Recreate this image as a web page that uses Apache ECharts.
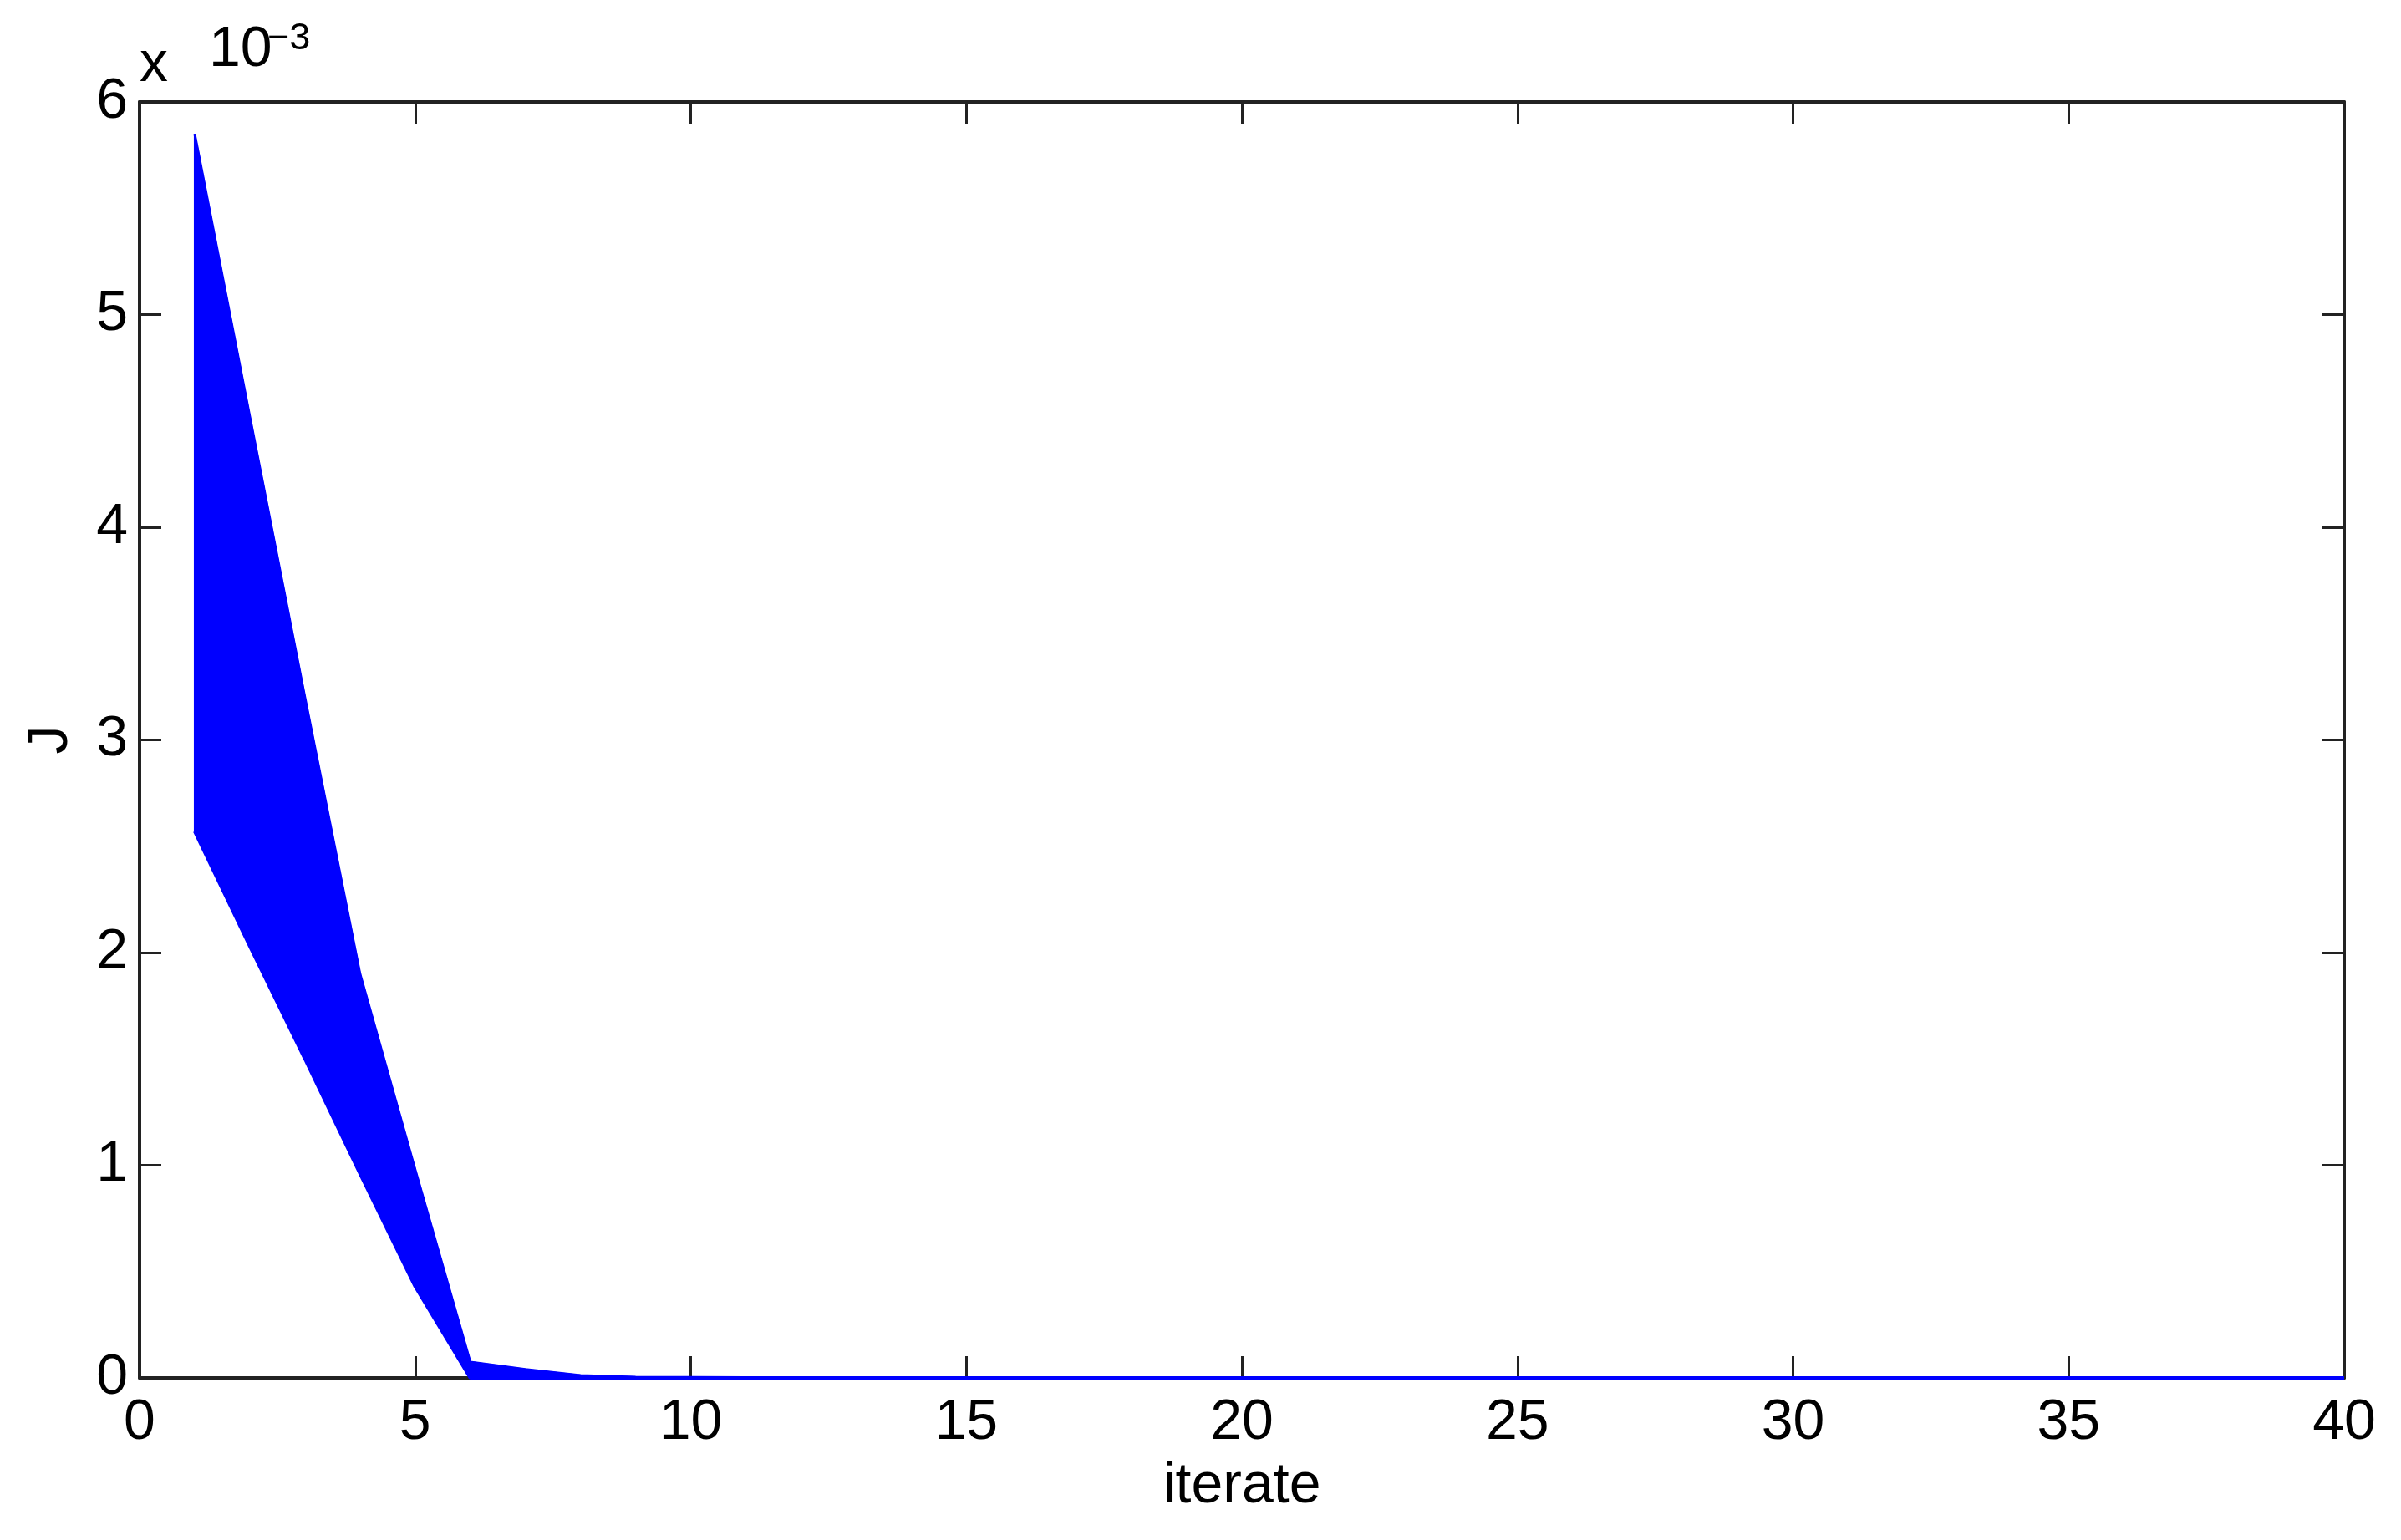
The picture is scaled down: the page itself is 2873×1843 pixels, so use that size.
<!DOCTYPE html>
<html>
<head>
<meta charset="utf-8">
<script src="https://cdn.jsdelivr.net/npm/echarts@6/dist/echarts.min.js"></script>
<style>
  html, body { margin: 0; padding: 0; background: #fff; }
  #jChart { width: 2873px; height: 1843px; }
</style>
</head>
<body>
<div id="jChart"></div>
<script>
// iterate index 1..40
var iterate = [1, 2, 3, 4, 5, 6, 7, 8, 9, 10, 11, 12, 13, 14, 15, 16, 17, 18, 19, 20,
  21, 22, 23, 24, 25, 26, 27, 28, 29, 30, 31, 32, 33, 34, 35, 36, 37, 38, 39, 40];
// J values in units of 1e-3 : upper and lower edge of the bundle of curves
var jUpper = [5.85, 4.52, 3.20, 1.90, 0.98, 0.075, 0.040, 0.012, 0.004, 0.003,
  0.002, 0.002, 0.002, 0.002, 0.002, 0.002, 0.002, 0.002, 0.002, 0.002,
  0.002, 0.002, 0.002, 0.002, 0.002, 0.002, 0.002, 0.002, 0.002, 0.002,
  0.002, 0.002, 0.002, 0.002, 0.002, 0.002, 0.002, 0.002, 0.002, 0.002];
var jLower = [2.57, 2.03, 1.50, 0.96, 0.43, 0, 0, 0, 0, 0,
  0, 0, 0, 0, 0, 0, 0, 0, 0, 0,
  0, 0, 0, 0, 0, 0, 0, 0, 0, 0,
  0, 0, 0, 0, 0, 0, 0, 0, 0, 0];
var xTicks = { min: 0, max: 40, interval: 5 };
var yTicks = { min: 0, max: 6, interval: 1 };

var FONT = 'Liberation Sans, Arial, sans-serif';
var axisColor = '#222';
var blue = '#0000ff';

// one item per segment between two iterates: [x0, up0, lo0, x1, up1, lo1]
var bandData = [];
for (var i = 0; i < iterate.length - 1; i++) {
  bandData.push([iterate[i], jUpper[i], jLower[i], iterate[i + 1], jUpper[i + 1], jLower[i + 1]]);
}

function renderBand(params, api) {
  var p1 = api.coord([api.value(0), api.value(2)]);
  var p2 = api.coord([api.value(3), api.value(5)]);
  var p3 = api.coord([api.value(3), api.value(4)]);
  var p4 = api.coord([api.value(0), api.value(1)]);
  return {
    type: 'polygon',
    shape: { points: [p1, p2, p3, p4] },
    style: { fill: blue, stroke: blue, lineWidth: 2 }
  };
}

function frameAxis(pos, opts, showLabel, labelMargin) {
  return Object.assign({
    type: 'value',
    position: pos,
    axisLine: { show: true, onZero: false, lineStyle: { color: axisColor, width: 4 } },
    axisTick: { show: true, inside: true, length: 26, lineStyle: { color: axisColor, width: 3 } },
    splitLine: { show: false },
    axisLabel: {
      show: showLabel,
      color: '#000',
      fontFamily: FONT,
      fontSize: 68,
      margin: labelMargin || 8
    }
  }, opts);
}

var jChart = echarts.init(document.getElementById('jChart'));
var options = {
  backgroundColor: '#fff',
  animation: false,
  grid: {
    left: 167,
    right: 68,
    top: 122,
    bottom: 194,
    containLabel: false,
    outerBoundsMode: 'none'
  },
  xAxis: [
    frameAxis('bottom', {
      min: xTicks.min, max: xTicks.max, interval: xTicks.interval,
      name: 'iterate',
      nameLocation: 'middle',
      nameGap: 96,
      nameTextStyle: { color: '#000', fontFamily: FONT, fontSize: 68 }
    }, true, 20),
    frameAxis('top', { min: xTicks.min, max: xTicks.max, interval: xTicks.interval }, false)
  ],
  yAxis: [
    frameAxis('left', {
      min: yTicks.min, max: yTicks.max, interval: yTicks.interval,
      name: 'J',
      nameLocation: 'middle',
      nameRotate: 90,
      nameGap: 72,
      nameTextStyle: { color: '#000', fontFamily: FONT, fontSize: 68 }
    }, true, 14),
    frameAxis('right', { min: yTicks.min, max: yTicks.max, interval: yTicks.interval }, false)
  ],
  series: [
    {
      name: 'band',
      type: 'custom',
      renderItem: renderBand,
      data: bandData,
      encode: { x: [0, 3], y: [1, 2, 4, 5] },
      clip: true,
      z: 3
    },
    {
      name: 'lower',
      type: 'line',
      data: iterate.map(function (x, i) { return [x, jLower[i]]; }),
      showSymbol: false,
      lineStyle: { color: blue, width: 4 },
      z: 4
    },
    {
      name: 'upper',
      type: 'line',
      data: iterate.map(function (x, i) { return [x, jUpper[i]]; }),
      showSymbol: false,
      lineStyle: { color: blue, width: 3 },
      z: 4
    }
  ],
  graphic: [
    { type: 'text', left: 167, top: 44, style: { text: 'x', fill: '#000', font: '68px ' + FONT } },
    { type: 'text', left: 250, top: 26, style: { text: '10', fill: '#000', font: '68px ' + FONT } },
    { type: 'text', left: 320, top: 24, style: { text: '\u22123', fill: '#000', font: '45px ' + FONT } }
  ]
};
jChart.setOption(options);
</script>
</body>
</html>
